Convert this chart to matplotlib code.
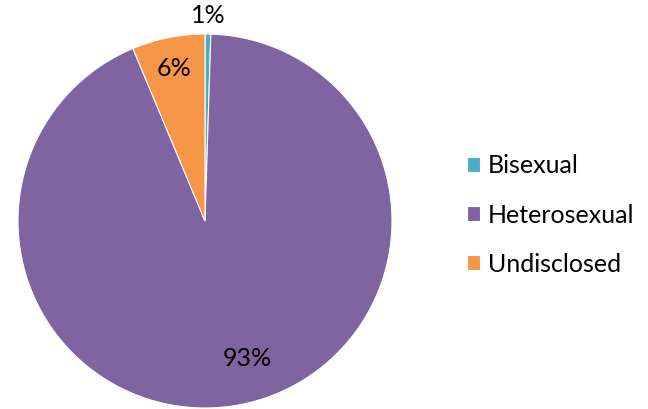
import numpy as np
import matplotlib.pyplot as plt

plt.rcParams['font.family'] = ['Lato', 'DejaVu Sans']

labels = ['Bisexual', 'Heterosexual', 'Undisclosed']
values = [0.5, 93.2, 6.3]
pct_text = ['1%', '93%', '6%']
colors = ['#4BACC6', '#8064A2', '#F79646']
label_r = [1.1, 0.77, 0.83]
label_shift = [0, 6.5, 0]  # degrees, nudges label off the slice middle

fig = plt.figure(figsize=(6.48, 4.09), dpi=100)
ax = fig.add_axes([18/648, 1/409, 374/648, 374/409])
wedges, _ = ax.pie(values, colors=colors, startangle=90, counterclock=False,
                   wedgeprops=dict(edgecolor='white', linewidth=0.8))
ax.set_xlim(-1, 1)
ax.set_ylim(-1, 1)
ax.set_aspect('equal')

for w, t, r, s in zip(wedges, pct_text, label_r, label_shift):
    ang = np.deg2rad((w.theta1 + w.theta2) / 2 + s)
    ax.text(r * np.cos(ang), r * np.sin(ang), t, ha='center', va='center',
            fontsize=18, color='black', clip_on=False)

fig.legend(wedges, labels, loc='center left', bbox_to_anchor=(444/648, 1 - 215/409),
           frameon=False, fontsize=18, handlelength=0.55, handleheight=0.55,
           handletextpad=0.3, labelspacing=1.05)

fig.savefig('out.png', dpi=100)
